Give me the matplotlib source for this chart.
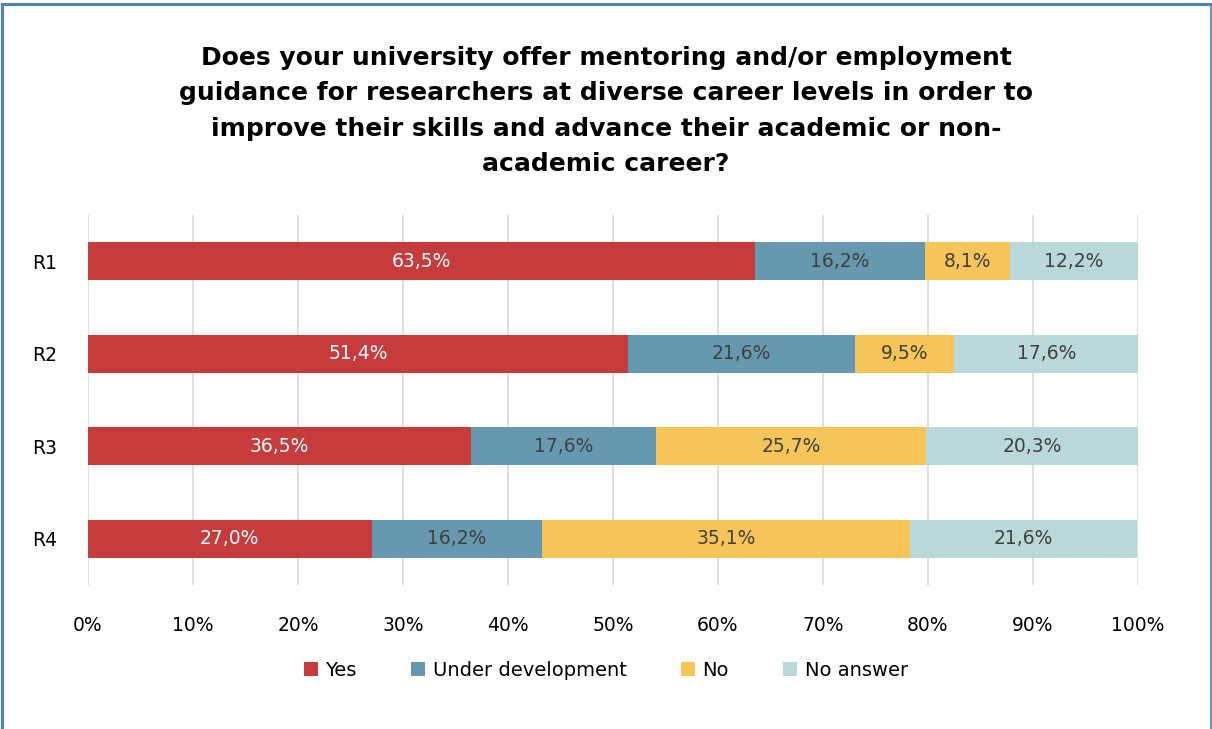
import matplotlib
matplotlib.use("Agg")
import matplotlib.pyplot as plt
from matplotlib.lines import Line2D
from matplotlib.patches import Patch

# Survey data (percent of respondents)
rows = ["R1", "R2", "R3", "R4"]
categories = ["Yes", "Under development", "No", "No answer"]
yes = [63.5, 51.4, 36.5, 27.0]
under_dev = [16.2, 21.6, 17.6, 16.2]
no = [8.1, 9.5, 25.7, 35.1]
no_answer = [12.2, 17.6, 20.3, 21.6]
xticks = [0, 10, 20, 30, 40, 50, 60, 70, 80, 90, 100]

series = [yes, under_dev, no, no_answer]
colors = ["#C63B3C", "#6699B0", "#F6C55A", "#BAD8DA"]
label_colors = ["white", "#404040", "#404040", "#404040"]

title = ("Does your university offer mentoring and/or employment\n"
         "guidance for researchers at diverse career levels in order to\n"
         "improve their skills and advance their academic or non-\n"
         "academic career?")

plt.rcParams["font.family"] = ["DejaVu Sans"]

fig = plt.figure(figsize=(12.12, 7.29), dpi=100)
W, H = 1212, 729
ax = fig.add_axes([88 / W, 1 - 585 / H, (1138 - 88) / W, (585 - 215) / H])

ypos = list(range(len(rows)))
left = [0.0] * len(rows)
for vals, col, lc in zip(series, colors, label_colors):
    bars = ax.barh(ypos, vals, left=left, height=0.41, color=col, zorder=3)
    for b, v in zip(bars, vals):
        ax.text(b.get_x() + b.get_width() / 2, b.get_y() + b.get_height() / 2,
                f"{v:.1f}%".replace(".", ","), ha="center", va="center",
                color=lc, fontsize=13.5, zorder=4)
    left = [l + v for l, v in zip(left, vals)]

ax.set_xlim(0, 100)
ax.set_ylim(len(rows) - 0.5, -0.5)
ax.set_yticks(ypos)
ax.set_yticklabels(rows, fontsize=13.5)
ax.set_xticks(xticks)
ax.set_xticklabels([f"{t}%" for t in xticks], fontsize=13.5)
ax.tick_params(axis="both", length=0)
ax.tick_params(axis="y", pad=22)
ax.tick_params(axis="x", pad=22)
ax.grid(axis="x", color="#D9D9D9", linewidth=1.2, zorder=0)
for s in ax.spines.values():
    s.set_visible(False)

fig.text(0.5, 1 - 111 / H, title, ha="center", va="center",
         fontsize=18, fontweight="bold", linespacing=1.58)

handles = [Patch(facecolor=c, edgecolor="none") for c in colors]
fig.legend(handles, categories, loc="center", bbox_to_anchor=(0.5, 1 - 670 / H),
           ncol=4, frameon=False, fontsize=14, handlelength=0.7, handleheight=0.7,
           handletextpad=0.4, columnspacing=2.8)

# Blue frame around the chart (top, left, right)
frame = "#4F81BD"
fig.add_artist(Line2D([2.5 / W, 2.5 / W], [0, 1 - 3.5 / H], color=frame, lw=2.2,
                      transform=fig.transFigure))
fig.add_artist(Line2D([2.5 / W, 1210.5 / W], [1 - 3.5 / H, 1 - 3.5 / H], color=frame,
                      lw=2.2, transform=fig.transFigure))
fig.add_artist(Line2D([1210.5 / W, 1210.5 / W], [0, 1 - 3.5 / H], color=frame, lw=1.2,
                      transform=fig.transFigure))

fig.savefig("out.png", dpi=100, facecolor="white")
